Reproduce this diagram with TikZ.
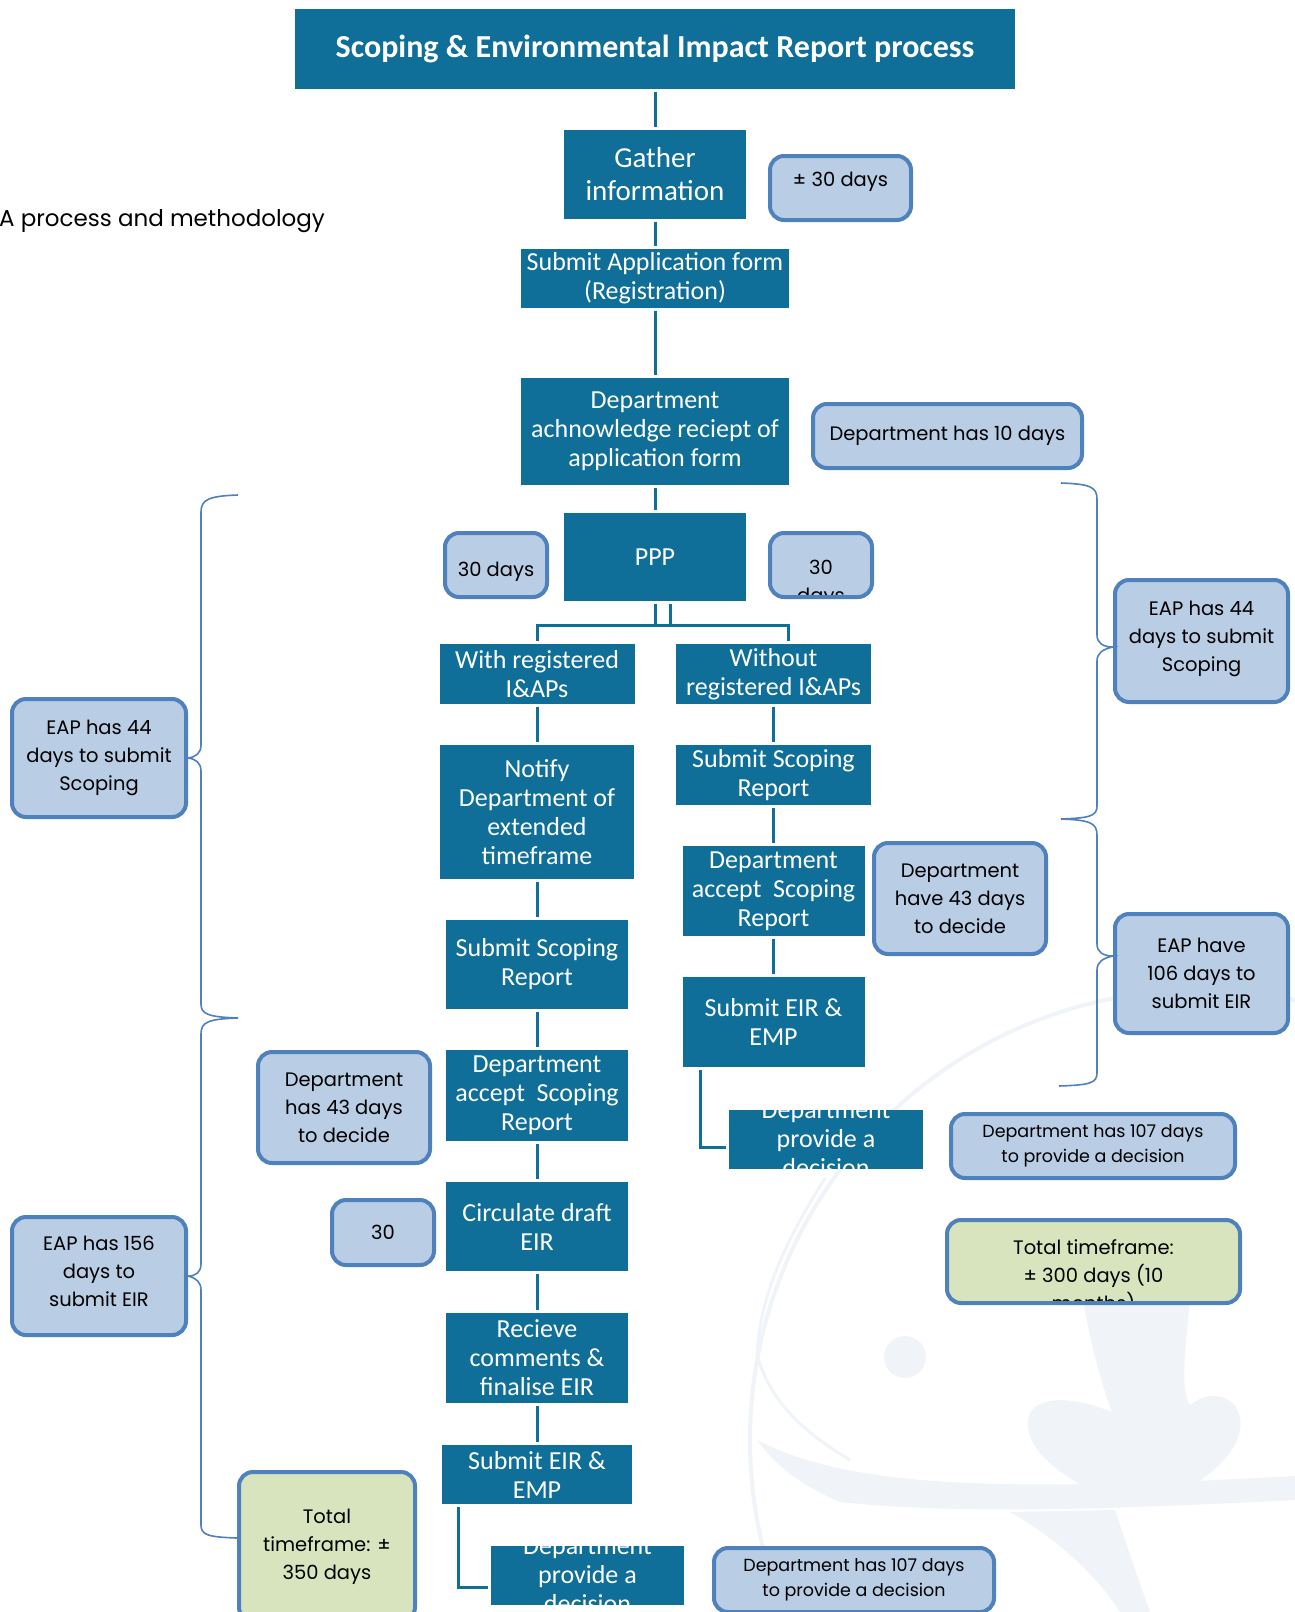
\documentclass[tikz,border=0pt]{standalone}
\usepackage{fontspec}
\setmainfont{Carlito}
\newfontfamily\gothic{Poppins}

\definecolor{eiablue}{RGB}{15,111,152}
\definecolor{daysfill}{RGB}{185,205,229}
\definecolor{daysedge}{RGB}{79,129,189}
\definecolor{totalfill}{RGB}{215,228,189}
\definecolor{logofill}{RGB}{240,244,249}

\tikzset{
  steptext/.style={text=white, align=center, font=\fontsize{26}{29}\selectfont},
  stepbox/.style={fill=eiablue, inner sep=0pt, steptext},
  daytext/.style={text=black, align=center, font=\gothic\fontsize{19.5}{28}\selectfont},
  daybox/.style={fill=daysfill, draw=daysedge, line width=4pt, rounded corners=14pt, inner sep=0pt, daytext},
  totalbox/.style={daybox, fill=totalfill},
  inner/.style={fill=none, draw=none, minimum width=0pt, minimum height=0pt},
  link/.style={draw=eiablue, line width=3pt, shorten <=3pt, shorten >=3pt},
  sidebrace/.style={draw=daysedge, line width=1.6pt},
}

\begin{document}
\begin{tikzpicture}[x=1pt,y=-1pt]
\fill[white] (0,0) rectangle (1295,1612);
\useasboundingbox (0,0) rectangle (1295,1612);
% faint logo behind everything
\draw[logofill, line width=4pt] (1200,1440) circle[radius=450];
\draw[logofill, line width=3pt] (825,1178) .. controls (780,1250) and (760,1300) .. (757,1355) .. controls (770,1400) and (800,1430) .. (850,1460);
\fill[logofill] (905,1357) circle[radius=21];
\fill[logofill] (1083,1300) -- (1190,1300) .. controls (1185,1350) and (1180,1390) .. (1190,1405)
  .. controls (1215,1385) and (1245,1400) .. (1240,1430) .. controls (1235,1460) and (1200,1480) .. (1180,1495)
  -- (1100,1495) .. controls (1060,1475) and (1025,1450) .. (1028,1420)
  .. controls (1032,1395) and (1070,1395) .. (1112,1412) .. controls (1100,1380) and (1090,1340) .. (1083,1300) -- cycle;
\fill[logofill] (757,1440) .. controls (850,1488) and (1000,1492) .. (1295,1476) -- (1295,1500)
  .. controls (1100,1510) and (950,1514) .. (840,1502) .. controls (800,1485) and (775,1465) .. (757,1440) -- cycle;
\fill[logofill] (1010,1512) .. controls (1060,1540) and (1100,1580) .. (1120,1612) -- (1150,1612)
  .. controls (1135,1570) and (1125,1540) .. (1115,1510) -- cycle;

% title and main column
\node[stepbox, minimum width=720pt, minimum height=80pt, font=\bfseries\fontsize{32}{36}\selectfont] (title) at (655,49) {Scoping \& Environmental Impact Report process};
\node[anchor=west, inner sep=0pt, font=\gothic\fontsize{23}{27}\selectfont] (method) at (-1,221) {A process and methodology};
\node[stepbox, minimum width=182pt, minimum height=89pt, font=\fontsize{29}{33}\selectfont] (gather) at (655,174.5) {Gather\\information};
\node[stepbox, minimum width=268pt, minimum height=59pt] (submitapp) at (655,278.5) {Submit Application form\\(Registration)};
\node[stepbox, minimum width=268pt, minimum height=107pt] (ackn) at (655,431.5) {Department\\achnowledge reciept of\\application form};
\node[stepbox, minimum width=182pt, minimum height=88pt] (ppp) at (655,557) {PPP};

% with registered I&APs
\node[stepbox, minimum width=195pt, minimum height=60pt] (with) at (537,674) {With registered\\I\&APs};
\node[stepbox, minimum width=194pt, minimum height=134pt] (notify) at (537,812) {Notify\\Department of\\extended\\timeframe};
\node[stepbox, minimum width=182pt, minimum height=89pt] (scopL) at (537,964.5) {Submit Scoping\\Report};
\node[stepbox, minimum width=182pt, minimum height=91pt] (acceptL) at (537,1095.5) {Department\\accept~ Scoping\\Report};
\node[stepbox, minimum width=182pt, minimum height=89pt] (circulate) at (537,1226.5) {Circulate draft\\EIR};
\node[stepbox, minimum width=182pt, minimum height=90pt] (recieve) at (537,1358) {Recieve\\comments \&\\finalise EIR};
\node[stepbox, minimum width=190pt, minimum height=59pt] (eirL) at (537,1474.5) {Submit EIR \&\\EMP};
\node[stepbox, minimum width=193pt, minimum height=59pt,
  path picture={\node[inner, steptext] (decLtext) at (path picture bounding box.center) {Department\\provide a\\decision};}] (decL) at (587.5,1575.5) {};

% without registered I&APs
\node[stepbox, minimum width=195pt, minimum height=60pt] (without) at (773.5,674) {Without\\registered I\&APs};
\node[stepbox, minimum width=195pt, minimum height=60pt] (scopR) at (773.5,775) {Submit Scoping\\Report};
\node[stepbox, minimum width=182pt, minimum height=90pt] (acceptR) at (773.5,891) {Department\\accept~ Scoping\\Report};
\node[stepbox, minimum width=182pt, minimum height=90pt] (eirR) at (773.5,1022) {Submit EIR \&\\EMP};
\node[stepbox, minimum width=194pt, minimum height=59pt,
  path picture={\node[inner, steptext] (decRtext) at (path picture bounding box.center) {Department\\provide a\\decision};}] (decR) at (826,1139.5) {};

% day counts
\node[daybox, minimum width=141pt, minimum height=64pt,
  path picture={\node[inner, daytext] (pm30text) at ([yshift=6pt]path picture bounding box.center) {± 30 days};}] (pm30) at (840.5,188) {};
\node[daybox, minimum width=269pt, minimum height=64pt] (dept10) at (947.5,436) {Department has 10 days};
\node[daybox, minimum width=102pt, minimum height=64pt,
  path picture={\node[inner, daytext] (days30Ltext) at ([yshift=-7pt]path picture bounding box.center) {30 days};}] (days30L) at (496,565) {};
\node[daybox, minimum width=102pt, minimum height=64pt,
  path picture={\node[inner, daytext] (days30Rtext) at ([yshift=-19pt]path picture bounding box.center) {30\\days};}] (days30R) at (821,565) {};
\node[daybox, minimum width=173pt, minimum height=122pt,
  path picture={\node[inner, daytext] (eap44Rtext) at ([yshift=2pt]path picture bounding box.center) {EAP has 44\\days to submit\\Scoping};}] (eap44R) at (1201.5,641) {};
\node[daybox, minimum width=172pt, minimum height=111pt] (have43) at (960,898.5) {Department\\have 43 days\\to decide};
\node[daybox, minimum width=173pt, minimum height=119pt] (eap106) at (1201.5,973.5) {EAP have\\106 days to\\submit EIR};
\node[daybox, minimum width=284pt, minimum height=64pt, font=\gothic\fontsize{17.5}{25}\selectfont] (dec107R) at (1093,1146) {Department has 107 days\\to provide a decision};
\node[totalbox, minimum width=293pt, minimum height=83pt,
  path picture={\node[inner, daytext] (total300text) at ([yshift=-15pt]path picture bounding box.center) {Total timeframe:\\± 300 days (10\\months)};}] (total300) at (1093.5,1261.5) {};
\node[daybox, minimum width=174pt, minimum height=118pt] (eap44L) at (99,758) {EAP has 44\\days to submit\\Scoping};
\node[daybox, minimum width=172pt, minimum height=111pt] (has43L) at (344,1107.5) {Department\\has 43 days\\to decide};
\node[daybox, minimum width=102pt, minimum height=65pt] (thirty) at (383,1232.5) {30};
\node[daybox, minimum width=174pt, minimum height=118pt,
  path picture={\node[inner, daytext] (eap156text) at ([yshift=5pt]path picture bounding box.center) {EAP has 156\\days to\\submit EIR};}] (eap156) at (99,1276) {};
\node[totalbox, minimum width=176pt, minimum height=149pt] (total350) at (327,1546.5) {Total\\timeframe: ±\\350 days};
\node[daybox, minimum width=280pt, minimum height=64pt, font=\gothic\fontsize{17.5}{25}\selectfont] (dec107L) at (854,1580) {Department has 107 days\\to provide a decision};

% connectors
\foreach \a/\b in {title/gather, gather/submitapp, submitapp/ackn, ackn/ppp}
  \draw[link] (\a) -- (\b);
\coordinate (split) at (655,625);
\draw[link, shorten >=0pt] (ppp.south) -- (split);
\draw[link, shorten >=0pt] ([xshift=15pt]ppp.south) -- ([xshift=15pt]split);
\draw[link] (with.north) |- (split) -| ([xshift=15pt]without.north);
\foreach \a/\b in {with/notify, notify/scopL, scopL/acceptL, acceptL/circulate, circulate/recieve, recieve/eirL}
  \draw[link] (\a) -- (\b);
\foreach \a/\b in {without/scopR, scopR/acceptR, acceptR/eirR}
  \draw[link] (\a) -- (\b);
\draw[link] ([xshift=17pt]eirL.south west) |- ([yshift=-12pt]decL.west);
\draw[link] ([xshift=18pt]eirR.south west) |- ([yshift=-7.5pt]decR.west);

% braces
\draw[sidebrace] (238,495) .. controls (208,496) and (201,500) .. (201,512) -- (201,745)
  .. controls (201,753) and (196,757) .. (eap44L.east) .. controls (196,759) and (201,763) .. (201,771)
  -- (201,1004) .. controls (201,1014) and (208,1017) .. (238,1018);
\draw[sidebrace] (238,1018) .. controls (208,1019) and (201,1022) .. (201,1034) -- (201,1264)
  .. controls (201,1272) and (196,1276) .. (eap156.east) .. controls (196,1278) and (201,1282) .. (201,1290)
  -- (201,1525) .. controls (201,1535) and (208,1537) .. (total350.west |- 0,1538);
\draw[sidebrace] (1061,483) .. controls (1090,484) and (1097,487) .. (1097,499) -- (1097,635)
  .. controls (1097,643) and (1103,647) .. (1113,647) .. controls (1103,649) and (1097,653) .. (1097,661)
  -- (1097,806) .. controls (1097,816) and (1090,818) .. (1061,819);
\draw[sidebrace] (1061,819) .. controls (1090,820) and (1097,823) .. (1097,835) -- (1097,944)
  .. controls (1097,952) and (1103,956) .. (1113,956) .. controls (1103,958) and (1097,962) .. (1097,970)
  -- (1097,1073) .. controls (1097,1083) and (1090,1085) .. (1059,1086);
\end{tikzpicture}
\end{document}
